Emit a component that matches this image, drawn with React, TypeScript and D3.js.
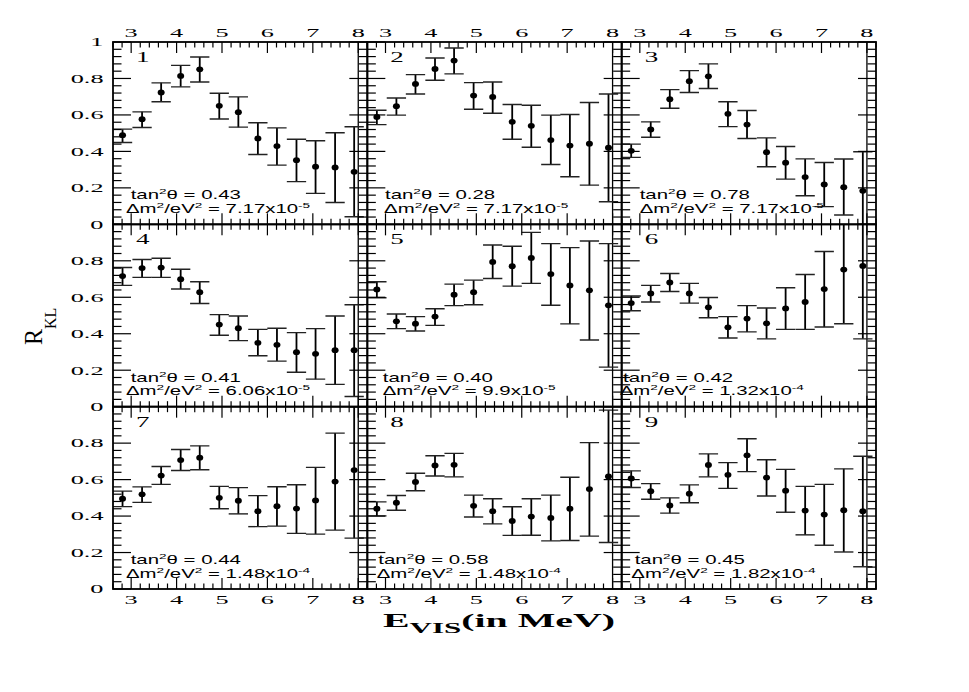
import React from 'react';
import * as d3 from 'd3';

// ---- data ----
const energies = [2.81, 3.24, 3.66, 4.09, 4.51, 4.94, 5.36, 5.79, 6.21, 6.64, 7.06, 7.49, 7.91];
const binHalfWidth = 0.2125;

const ratio1 = [0.489, 0.577, 0.723, 0.814, 0.85, 0.65, 0.615, 0.471, 0.429, 0.352, 0.316, 0.312, 0.288];
const upper1 = [0.522, 0.617, 0.776, 0.872, 0.918, 0.719, 0.699, 0.557, 0.529, 0.467, 0.458, 0.502, 0.535];
const lower1 = [0.449, 0.531, 0.672, 0.754, 0.781, 0.578, 0.533, 0.383, 0.325, 0.234, 0.17, 0.12, 0.042];

const ratio2 = [0.589, 0.648, 0.77, 0.852, 0.898, 0.706, 0.699, 0.562, 0.54, 0.462, 0.432, 0.442, 0.42];
const upper2 = [0.626, 0.693, 0.821, 0.912, 0.967, 0.777, 0.781, 0.657, 0.653, 0.599, 0.602, 0.668, 0.715];
const lower2 = [0.547, 0.599, 0.715, 0.79, 0.825, 0.631, 0.609, 0.467, 0.423, 0.328, 0.261, 0.215, 0.124];

const ratio3 = [0.403, 0.52, 0.686, 0.785, 0.812, 0.606, 0.547, 0.396, 0.338, 0.259, 0.219, 0.204, 0.184];
const upper3 = [0.44, 0.562, 0.739, 0.843, 0.88, 0.672, 0.624, 0.474, 0.427, 0.359, 0.339, 0.358, 0.398];
const lower3 = [0.367, 0.478, 0.637, 0.723, 0.745, 0.536, 0.471, 0.316, 0.248, 0.157, 0.097, 0.051, -0.03];

const ratio4 = [0.716, 0.76, 0.763, 0.699, 0.628, 0.45, 0.43, 0.35, 0.339, 0.299, 0.29, 0.31, 0.31];
const upper4 = [0.763, 0.807, 0.814, 0.754, 0.685, 0.505, 0.497, 0.424, 0.43, 0.406, 0.428, 0.497, 0.559];
const lower4 = [0.665, 0.709, 0.709, 0.645, 0.566, 0.392, 0.362, 0.279, 0.25, 0.189, 0.151, 0.122, 0.056];

const ratio5 = [0.643, 0.468, 0.455, 0.494, 0.614, 0.628, 0.794, 0.77, 0.816, 0.727, 0.665, 0.638, 0.556];
const upper5 = [0.685, 0.508, 0.494, 0.537, 0.672, 0.694, 0.887, 0.88, 0.956, 0.894, 0.872, 0.909, 0.894];
const lower5 = [0.597, 0.428, 0.415, 0.446, 0.554, 0.559, 0.703, 0.661, 0.676, 0.556, 0.454, 0.366, 0.217];

const ratio6 = [0.568, 0.621, 0.681, 0.621, 0.545, 0.435, 0.483, 0.457, 0.539, 0.574, 0.645, 0.752, 0.772];
const upper6 = [0.607, 0.665, 0.73, 0.676, 0.599, 0.494, 0.554, 0.541, 0.652, 0.725, 0.851, 1.05, 1.08];
const lower6 = [0.526, 0.574, 0.632, 0.568, 0.488, 0.377, 0.41, 0.372, 0.424, 0.424, 0.437, 0.455, 0.372];

const ratio7 = [0.495, 0.519, 0.622, 0.707, 0.72, 0.5, 0.484, 0.427, 0.454, 0.441, 0.486, 0.589, 0.652];
const upper7 = [0.537, 0.56, 0.672, 0.765, 0.785, 0.563, 0.556, 0.512, 0.561, 0.572, 0.667, 0.855, 1.05];
const lower7 = [0.452, 0.475, 0.574, 0.65, 0.654, 0.44, 0.412, 0.342, 0.345, 0.305, 0.301, 0.323, 0.279];

const ratio8 = [0.44, 0.473, 0.587, 0.678, 0.681, 0.456, 0.427, 0.373, 0.397, 0.39, 0.44, 0.548, 0.617];
const upper8 = [0.478, 0.513, 0.635, 0.731, 0.744, 0.515, 0.495, 0.451, 0.495, 0.515, 0.613, 0.803, 0.981];
const lower8 = [0.401, 0.432, 0.539, 0.62, 0.615, 0.395, 0.357, 0.294, 0.295, 0.264, 0.266, 0.29, 0.255];

const ratio9 = [0.606, 0.536, 0.458, 0.523, 0.68, 0.626, 0.733, 0.611, 0.539, 0.43, 0.408, 0.432, 0.427];
const upper9 = [0.648, 0.578, 0.5, 0.571, 0.741, 0.693, 0.824, 0.709, 0.656, 0.563, 0.574, 0.659, 0.728];
const lower9 = [0.557, 0.492, 0.416, 0.473, 0.615, 0.552, 0.644, 0.51, 0.421, 0.297, 0.24, 0.203, 0.122];

const ratios = [ratio1, ratio2, ratio3, ratio4, ratio5, ratio6, ratio7, ratio8, ratio9];
const uppers = [upper1, upper2, upper3, upper4, upper5, upper6, upper7, upper8, upper9];
const lowers = [lower1, lower2, lower3, lower4, lower5, lower6, lower7, lower8, lower9];

const panelNumbers = ['1', '2', '3', '4', '5', '6', '7', '8', '9'];
const tan2Values = ['0.43', '0.28', '0.78', '0.41', '0.40', '0.42', '0.44', '0.58', '0.45'];
const dm2Mantissas = ['7.17', '7.17', '7.17', '6.06', '9.9', '1.32', '1.48', '1.48', '1.82'];
const dm2Exponents = ['-5', '-5', '-5', '-5', '-5', '-4', '-4', '-4', '-4'];

const xMajorTicks = [3, 4, 5, 6, 7, 8];
const xTickLabels = ['3', '4', '5', '6', '7', '8'];
const yMajorTicks = [0, 0.2, 0.4, 0.6, 0.8, 1];
const yTickLabels = ['0', '0.2', '0.4', '0.6', '0.8', '1'];

// ---- layout ----
const SERIF = "'Liberation Serif', 'Times New Roman', serif";
const SANS = "'Liberation Sans', Arial, Helvetica, sans-serif";
const LEFT = 113;
const TOP = 42;
const PW = 763 / 3;
const PH = 547 / 3;
const X_DOMAIN = [2.6, 8.2];
const annotLine1Dx = [17.7, 17.7, 18, 17.7, 15.4, 1.3, 17.7, 11, 13];
const annotLine2Dx = [13, 16.7, 18, 13, 15.4, -2, 13, 9.4, 9.7];

function SText(props: any) {
  const { x, y, sx, anchor = 'start', size, family, weight = 'normal', children } = props;
  return (
    <g transform={`translate(${x},${y}) scale(${sx},1)`}>
      <text x={0} y={0} textAnchor={anchor} fontSize={size} fontFamily={family} fontWeight={weight} fill="#000">
        {children}
      </text>
    </g>
  );
}

export default function App() {
  const xMinor = d3.range(2.6, 8.2001, 0.2).filter((v) => Math.abs(v - Math.round(v)) > 0.01);
  const yMinor = d3.range(0, 1.0001, 0.04).filter((v) => Math.abs(v * 5 - Math.round(v * 5)) > 0.01);

  const panels = d3.range(9).map((i) => {
    const col = i % 3;
    const row = Math.floor(i / 3);
    const x0 = LEFT + col * PW;
    const y0 = TOP + row * PH;
    const x = d3.scaleLinear().domain(X_DOMAIN).range([x0, x0 + PW]);
    const y = d3.scaleLinear().domain([0, 1]).range([y0 + PH, y0]);
    return { i, col, row, x0, y0, x, y };
  });

  const tickStroke = 1.2;
  const majX = 11, minX = 5.5, majY = 18, minY = 8.5;

  return (
    <svg width={969} height={692} style={{ position: 'absolute', left: 0, top: 0, background: '#fff' }}>
      <rect x={0} y={0} width={969} height={692} fill="#fff" />
      <defs>
        {panels.map((p) => (
          <clipPath id={`clip${p.i}`} key={p.i}>
            <rect x={p.x0} y={p.y0} width={PW} height={PH} />
          </clipPath>
        ))}
      </defs>
      {panels.map((p) => {
        const { i, x, y, x0, y0 } = p;
        const x1 = x0 + PW;
        const yb = y0 + PH;
        return (
          <g key={i}>
            {/* data */}
            <g clipPath={`url(#clip${i})`}>
              <line x1={x(8)} x2={x(8)} y1={y0} y2={yb} stroke="#000" strokeWidth={1.3} />
              {energies.map((e, k) => (
                <g key={k}>
                  <line x1={x(e)} x2={x(e)} y1={y(lowers[i][k])} y2={y(uppers[i][k])} stroke="#000" strokeWidth={1.8} />
                  <line x1={x(e - binHalfWidth)} x2={x(e + binHalfWidth)} y1={y(uppers[i][k])} y2={y(uppers[i][k])} stroke="#222" strokeWidth={1.4} />
                  <line x1={x(e - binHalfWidth)} x2={x(e + binHalfWidth)} y1={y(lowers[i][k])} y2={y(lowers[i][k])} stroke="#222" strokeWidth={1.4} />
                  <ellipse cx={x(e)} cy={y(ratios[i][k])} rx={3.5} ry={2.9} fill="#000" />
                </g>
              ))}
            </g>
            {/* ticks */}
            {xMajorTicks.map((v) => (
              <g key={'xm' + v}>
                <line x1={x(v)} x2={x(v)} y1={yb} y2={yb - majX} stroke="#000" strokeWidth={tickStroke} />
                <line x1={x(v)} x2={x(v)} y1={y0} y2={y0 + majX} stroke="#000" strokeWidth={tickStroke} />
              </g>
            ))}
            {xMinor.map((v, k) => (
              <g key={'xn' + k}>
                <line x1={x(v)} x2={x(v)} y1={yb} y2={yb - minX} stroke="#000" strokeWidth={tickStroke} />
                <line x1={x(v)} x2={x(v)} y1={y0} y2={y0 + minX} stroke="#000" strokeWidth={tickStroke} />
              </g>
            ))}
            {yMajorTicks.map((v) => (
              <g key={'ym' + v}>
                <line x1={x0} x2={x0 + majY} y1={y(v)} y2={y(v)} stroke="#000" strokeWidth={tickStroke} />
                <line x1={x1} x2={x1 - majY} y1={y(v)} y2={y(v)} stroke="#000" strokeWidth={tickStroke} />
              </g>
            ))}
            {yMinor.map((v, k) => (
              <g key={'yn' + k}>
                <line x1={x0} x2={x0 + minY} y1={y(v)} y2={y(v)} stroke="#000" strokeWidth={tickStroke} />
                <line x1={x1} x2={x1 - minY} y1={y(v)} y2={y(v)} stroke="#000" strokeWidth={tickStroke} />
              </g>
            ))}
            {/* frame */}
            <rect x={x0} y={y0} width={PW} height={PH} fill="none" stroke="#000" strokeWidth={1.8} />
            {/* panel number */}
            <SText x={x0 + 23} y={y0 + 20} sx={1.8} size={15} family={SERIF}>
              {panelNumbers[i]}
            </SText>
            {/* annotations */}
            <SText x={x0 + annotLine1Dx[i]} y={yb - 25} sx={1.7} size={12} family={SANS}>
              tan<tspan dy={-5} fontSize={8}>2</tspan>
              <tspan dy={5}>θ = {tan2Values[i]}</tspan>
            </SText>
            <SText x={x0 + annotLine2Dx[i]} y={yb - 11.5} sx={1.7} size={12} family={SANS}>
              Δm<tspan dy={-5} fontSize={8}>2</tspan>
              <tspan dy={5}>/eV</tspan>
              <tspan dy={-5} fontSize={8}>2</tspan>
              <tspan dy={5}>{' = ' + dm2Mantissas[i] + 'x10'}</tspan>
              <tspan dy={-5} fontSize={8}>{dm2Exponents[i]}</tspan>
            </SText>
            {/* axis labels */}
            {p.row === 0 &&
              xMajorTicks.map((v, k) => (
                <SText key={'tl' + v} x={x(v)} y={y0 - 5.5} sx={2.1} anchor="middle" size={12.5} family={SERIF}>
                  {xTickLabels[k]}
                </SText>
              ))}
            {p.row === 2 &&
              xMajorTicks.map((v, k) => (
                <SText key={'bl' + v} x={x(v)} y={yb + 14.5} sx={2.1} anchor="middle" size={12.5} family={SERIF}>
                  {xTickLabels[k]}
                </SText>
              ))}
            {p.col === 0 &&
              yMajorTicks
                .filter((v) => p.row === 0 || v < 0.99)
                .map((v) => (
                  <SText key={'yl' + v} x={103.5} y={y(v) + 4.3} sx={2.1} anchor="end" size={12.5} family={SERIF}>
                    {yTickLabels[yMajorTicks.indexOf(v)]}
                  </SText>
                ))}
          </g>
        );
      })}
      {/* x title */}
      <text x={383} y={627} fontFamily={SERIF} fontWeight="bold" fontSize={18} textLength={232} lengthAdjust="spacingAndGlyphs">
        E<tspan dy={6} fontSize={14}>VIS</tspan>
        <tspan dy={-6}>(in MeV)</tspan>
      </text>
      {/* y title */}
      <g transform="translate(42,345) scale(1.05,1) rotate(-90)">
        <text x={0} y={0} fontFamily={SERIF} fontSize={24}>
          R<tspan dy={13} fontSize={16}>KL</tspan>
        </text>
      </g>
    </svg>
  );
}
